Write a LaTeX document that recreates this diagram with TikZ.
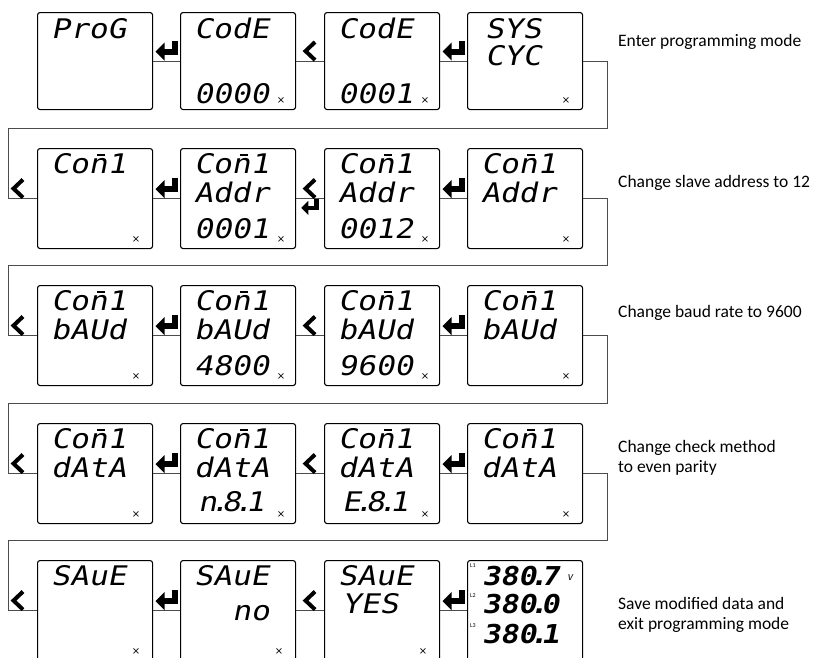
\documentclass[tikz,border=0pt]{standalone}
\usepackage{fontspec}
\setmainfont{Carlito}
\newfontfamily\lcdfont[FakeSlant=0.2,FakeStretch=1.15]{DejaVu Sans Mono}
\newfontfamily\symfont{DejaVu Sans}
\usetikzlibrary{calc}
\newcommand\lcddot{\makebox[5pt][c]{.}}
\newcommand\nbar{\ooalign{n\cr\hidewidth\kern6pt\rule[17pt]{8pt}{2.4pt}\hidewidth\cr}}
\newcommand\comone{Co\nbar 1}
\tikzset{
  lcdbox/.style={draw, line width=1.1pt, rounded corners=2.5pt, minimum width=115pt, minimum height=100pt, inner sep=0pt, anchor=north west},
  lcdtxt/.style={font=\lcdfont\fontsize{27}{27}\selectfont, inner sep=0pt, anchor=base west},
  bigtxt/.style={font=\lcdfont\bfseries\fontsize{26}{26}\selectfont, inner sep=0pt, anchor=base west},
  tiny/.style={font=\fontsize{6}{6}\selectfont, inner sep=0pt, anchor=west},
  mult/.style={font=\symfont\fontsize{10}{10}\selectfont, inner sep=0pt},
  desc/.style={font=\fontsize{17.5}{20}\selectfont, anchor=west, inner sep=0pt, align=left},
  conn/.style={line width=0.9pt, draw=black!70},
  chev/.pic={\draw[line width=4pt, miter limit=10] (5,-19) -- (-4.5,-10) -- (5,-1);},
  enterarrow/.pic={\fill (-11,-9.5) -- (-2,-18.5) -- (-2,-0.5) -- cycle; \fill (-3,-12.5) rectangle (11,-6.5); \fill (5.5,-20.5) rectangle (11,-6.5);}
}
\begin{document}
\begin{tikzpicture}[x=1pt,y=-1pt]
\useasboundingbox (0,0) rectangle (816,657);
\clip (0,0) rectangle (816,657);
% ---------- row 1
\node[lcdbox, minimum height=97pt] (b11) at (37,12) {};
\node[lcdbox, minimum height=97pt] (b12) at (180,12) {};
\node[lcdbox, minimum height=97pt] (b13) at (324,12) {};
\node[lcdbox, minimum height=97pt] (b14) at (467,12) {};
\node[lcdtxt] (t11a) at ($(b11.north west)+(14,26)$) {ProG};
\node[lcdtxt] (t12a) at ($(b12.north west)+(14,26)$) {CodE};
\node[lcdtxt] (t12c) at ($(b12.north west)+(14,91)$) {0000};
\node[lcdtxt] (t13a) at ($(b13.north west)+(14,26)$) {CodE};
\node[lcdtxt] (t13c) at ($(b13.north west)+(14,91)$) {0001};
\node[lcdtxt] (t14a) at ($(b14.north west)+(18,26)$) {SYS};
\node[lcdtxt] (t14b) at ($(b14.north west)+(18,53)$) {CYC};
\node[mult] (x12) at ($(b12.south east)+(-15,-10)$) {×};
\node[mult] (x13) at ($(b13.south east)+(-15,-10)$) {×};
\node[mult] (x14) at ($(b14.south east)+(-17,-10)$) {×};
\draw[conn] (b12.west) -- (b11.east);
\draw[conn] (b13.west) -- (b12.east);
\draw[conn] (b14.west) -- (b13.east);
\pic at ($(b11.east)!.5!(b12.west)$) {enterarrow};
\pic at ($(b12.east)!.5!(b13.west)$) {chev};
\pic at ($(b13.east)!.5!(b14.west)$) {enterarrow};
\node[desc] (d1) at (618,42) {Enter programming mode};
% ---------- row 2
\node[lcdbox] (b21) at (37,148) {};
\node[lcdbox] (b22) at (180,148) {};
\node[lcdbox] (b23) at (324,148) {};
\node[lcdbox] (b24) at (467,148) {};
\node[lcdtxt] (t21a) at ($(b21.north west)+(14,25)$) {\comone};
\node[lcdtxt] (t22a) at ($(b22.north west)+(14,25)$) {\comone};
\node[lcdtxt] (t22b) at ($(b22.north west)+(14,54)$) {Addr};
\node[lcdtxt] (t22c) at ($(b22.north west)+(14,90)$) {0001};
\node[lcdtxt] (t23a) at ($(b23.north west)+(14,25)$) {\comone};
\node[lcdtxt] (t23b) at ($(b23.north west)+(14,54)$) {Addr};
\node[lcdtxt] (t23c) at ($(b23.north west)+(14,90)$) {0012};
\node[lcdtxt] (t24a) at ($(b24.north west)+(14,25)$) {\comone};
\node[lcdtxt] (t24b) at ($(b24.north west)+(14,54)$) {Addr};
\node[mult] (x21) at ($(b21.south east)+(-17,-10)$) {×};
\node[mult] (x22) at ($(b22.south east)+(-15,-10)$) {×};
\node[mult] (x23) at ($(b23.south east)+(-15,-10)$) {×};
\node[mult] (x24) at ($(b24.south east)+(-17,-10)$) {×};
\coordinate (r1) at (607,128);
\coordinate (l1) at (8,128);
\draw[conn] (b14.east) -| (r1) -- (l1) |- (b21.west);
\draw[conn] (b22.west) -- (b21.east);
\draw[conn] (b23.west) -- (b22.east);
\draw[conn] (b24.west) -- (b23.east);
\pic at ([xshift=-19pt]b21.west) {chev};
\pic at ($(b21.east)!.5!(b22.west)$) {enterarrow};
\pic at ($(b22.east)!.5!(b23.west)$) {chev};
\pic[scale=0.8] at ($(b22.east)!.5!(b23.west)+(0,17)$) {enterarrow};
\pic at ($(b23.east)!.5!(b24.west)$) {enterarrow};
\node[desc] (d2) at (618,183) {Change slave address to 12};
% ---------- row 3
\node[lcdbox] (b31) at (37,285) {};
\node[lcdbox] (b32) at (180,285) {};
\node[lcdbox] (b33) at (324,285) {};
\node[lcdbox] (b34) at (467,285) {};
\node[lcdtxt] (t31a) at ($(b31.north west)+(14,25)$) {\comone};
\node[lcdtxt] (t31b) at ($(b31.north west)+(14,54)$) {bAUd};
\node[lcdtxt] (t32a) at ($(b32.north west)+(14,25)$) {\comone};
\node[lcdtxt] (t32b) at ($(b32.north west)+(14,54)$) {bAUd};
\node[lcdtxt] (t32c) at ($(b32.north west)+(14,90)$) {4800};
\node[lcdtxt] (t33a) at ($(b33.north west)+(14,25)$) {\comone};
\node[lcdtxt] (t33b) at ($(b33.north west)+(14,54)$) {bAUd};
\node[lcdtxt] (t33c) at ($(b33.north west)+(14,90)$) {9600};
\node[lcdtxt] (t34a) at ($(b34.north west)+(14,25)$) {\comone};
\node[lcdtxt] (t34b) at ($(b34.north west)+(14,54)$) {bAUd};
\node[mult] (x31) at ($(b31.south east)+(-17,-10)$) {×};
\node[mult] (x32) at ($(b32.south east)+(-15,-10)$) {×};
\node[mult] (x33) at ($(b33.south east)+(-15,-10)$) {×};
\node[mult] (x34) at ($(b34.south east)+(-17,-10)$) {×};
\coordinate (r2) at (607,265);
\coordinate (l2) at (8,265);
\draw[conn] (b24.east) -| (r2) -- (l2) |- (b31.west);
\draw[conn] (b32.west) -- (b31.east);
\draw[conn] (b33.west) -- (b32.east);
\draw[conn] (b34.west) -- (b33.east);
\pic at ([xshift=-19pt]b31.west) {chev};
\pic at ($(b31.east)!.5!(b32.west)$) {enterarrow};
\pic at ($(b32.east)!.5!(b33.west)$) {chev};
\pic at ($(b33.east)!.5!(b34.west)$) {enterarrow};
\node[desc] (d3) at (618,313) {Change baud rate to 9600};
% ---------- row 4
\node[lcdbox] (b41) at (37,423) {};
\node[lcdbox] (b42) at (180,423) {};
\node[lcdbox] (b43) at (324,423) {};
\node[lcdbox] (b44) at (467,423) {};
\node[lcdtxt] (t41a) at ($(b41.north west)+(14,25)$) {\comone};
\node[lcdtxt] (t41b) at ($(b41.north west)+(14,54)$) {dAtA};
\node[lcdtxt] (t42a) at ($(b42.north west)+(14,25)$) {\comone};
\node[lcdtxt] (t42b) at ($(b42.north west)+(14,54)$) {dAtA};
\node[lcdtxt] (t42c) at ($(b42.north west)+(18,88)$) {n\lcddot8\lcddot1};
\node[lcdtxt] (t43a) at ($(b43.north west)+(14,25)$) {\comone};
\node[lcdtxt] (t43b) at ($(b43.north west)+(14,54)$) {dAtA};
\node[lcdtxt] (t43c) at ($(b43.north west)+(18,88)$) {E\lcddot8\lcddot1};
\node[lcdtxt] (t44a) at ($(b44.north west)+(14,25)$) {\comone};
\node[lcdtxt] (t44b) at ($(b44.north west)+(14,54)$) {dAtA};
\node[mult] (x41) at ($(b41.south east)+(-17,-10)$) {×};
\node[mult] (x42) at ($(b42.south east)+(-15,-10)$) {×};
\node[mult] (x43) at ($(b43.south east)+(-15,-10)$) {×};
\node[mult] (x44) at ($(b44.south east)+(-17,-10)$) {×};
\coordinate (r3) at (607,403);
\coordinate (l3) at (8,403);
\draw[conn] (b34.east) -| (r3) -- (l3) |- (b41.west);
\draw[conn] (b42.west) -- (b41.east);
\draw[conn] (b43.west) -- (b42.east);
\draw[conn] (b44.west) -- (b43.east);
\pic at ([xshift=-19pt]b41.west) {chev};
\pic at ($(b41.east)!.5!(b42.west)$) {enterarrow};
\pic at ($(b42.east)!.5!(b43.west)$) {chev};
\pic at ($(b43.east)!.5!(b44.west)$) {enterarrow};
\node[desc] (d4) at (618,457.5) {Change check method\\to even parity};
% ---------- row 5
\node[lcdbox] (b51) at (37,560) {};
\node[lcdbox] (b52) at (180,560) {};
\node[lcdbox] (b53) at (324,560) {};
\node[lcdbox] (b54) at (467,560) {};
\node[lcdtxt] (t51a) at ($(b51.north west)+(14,25)$) {SAuE};
\node[lcdtxt] (t52a) at ($(b52.north west)+(14,25)$) {SAuE};
\node[lcdtxt] (t52b) at ($(b52.north west)+(52,60)$) {no};
\node[lcdtxt] (t53a) at ($(b53.north west)+(14,25)$) {SAuE};
\node[lcdtxt] (t53b) at ($(b53.north west)+(18,53)$) {YES};
\node[bigtxt] (t54a) at ($(b54.north west)+(15,25)$) {380\lcddot7};
\node[bigtxt] (t54b) at ($(b54.north west)+(15,53)$) {380\lcddot0};
\node[bigtxt] (t54c) at ($(b54.north west)+(15,83)$) {380\lcddot1};
\node[tiny] (l54a) at ($(b54.north west)+(3,6)$) {L1};
\node[tiny] (l54b) at ($(b54.north west)+(3,36)$) {L2};
\node[tiny] (l54c) at ($(b54.north west)+(3,66)$) {L3};
\node[tiny, font=\lcdfont\fontsize{8}{8}\selectfont] (v54) at ($(b54.north west)+(100,18)$) {V};
\node[mult] (x51) at ($(b51.south east)+(-17,-10)$) {×};
\node[mult] (x52) at ($(b52.south east)+(-17,-10)$) {×};
\node[mult] (x53) at ($(b53.south east)+(-17,-10)$) {×};
\coordinate (r4) at (607,540);
\coordinate (l4) at (8,540);
\draw[conn] (b44.east) -| (r4) -- (l4) |- (b51.west);
\draw[conn] (b52.west) -- (b51.east);
\draw[conn] (b53.west) -- (b52.east);
\draw[conn] (b54.west) -- (b53.east);
\pic at ([xshift=-19pt]b51.west) {chev};
\pic at ($(b51.east)!.5!(b52.west)$) {enterarrow};
\pic at ($(b52.east)!.5!(b53.west)$) {chev};
\pic at ($(b53.east)!.5!(b54.west)$) {enterarrow};
\node[desc] (d5) at (618,615) {Save modified data and\\exit programming mode};
\end{tikzpicture}
\end{document}
